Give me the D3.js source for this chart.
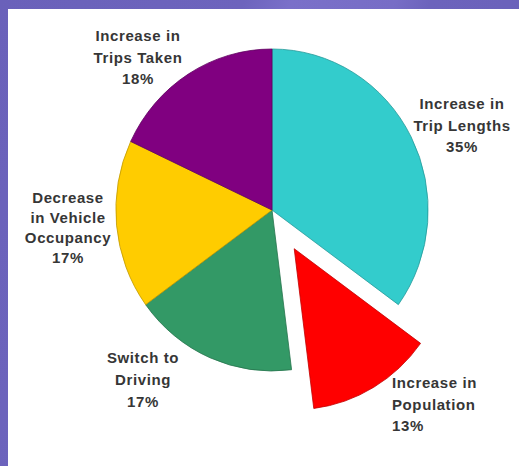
<!DOCTYPE html>
<html>
<head>
<meta charset="utf-8">
<script src="https://cdn.jsdelivr.net/npm/d3@7"></script>
<style>
  html, body { margin: 0; padding: 0; background: #6d64bd; }
  svg { display: block; }
</style>
</head>
<body>
<svg id="chart" width="519" height="466"></svg>
<script>
// Causes of growth in vehicle travel, share of total
const categories = [
  "Increase in Trip Lengths",
  "Increase in Population",
  "Switch to Driving",
  "Decrease in Vehicle Occupancy",
  "Increase in Trips Taken"
];
const shares = [35, 13, 17, 17, 18];
const labelLines = [
  ["Increase in", "Trip Lengths", "35%"],
  ["Increase in", "Population", "13%"],
  ["Switch to", "Driving", "17%"],
  ["Decrease", "in Vehicle", "Occupancy", "17%"],
  ["Increase in", "Trips Taken", "18%"]
];
const sliceColors = ["#33cccc", "#ff0000", "#339966", "#ffcc00", "#800080"];
const pulledOut = ["Increase in Population"];

// label placement: anchor x, first baseline y, line step, alignment
const labelLayout = [
  { x: 462, y: 109, step: 21.5, anchor: "middle" },
  { x: 392, y: 388, step: 21.5, anchor: "start" },
  { x: 143, y: 363, step: 22,   anchor: "middle" },
  { x: 68,  y: 203, step: 20,   anchor: "middle" },
  { x: 138, y: 41,  step: 21.5, anchor: "middle" }
];

const W = 519, H = 466;
const svg = d3.select("#chart");

// purple backdrop with soft diagonal light bands
const defs = svg.append("defs");
const grad = defs.append("linearGradient")
  .attr("id", "bg").attr("x1", "0").attr("y1", "0").attr("x2", "1").attr("y2", "0.35");
[["0", "#6a61ba"], ["0.42", "#6d64bd"], ["0.5", "#7a70c9"], ["0.68", "#776dc6"],
 ["0.74", "#6c63bc"], ["1", "#6a61ba"]].forEach(([o, c]) =>
  grad.append("stop").attr("offset", o).attr("stop-color", c));
svg.append("rect").attr("width", W).attr("height", H).attr("fill", "url(#bg)");

// white panel
svg.append("rect")
  .attr("x", 8).attr("y", 9).attr("width", W - 8).attr("height", H - 9)
  .attr("fill", "#ffffff");

const cx = 272, cy = 210, r = 161;
const pie = d3.pie().sort(null).value(d => d.value).startAngle(0).endAngle(2 * Math.PI);
const arcs = pie(categories.map((c, i) => ({ name: c, value: shares[i], color: sliceColors[i] })));
const arc = d3.arc().innerRadius(0).outerRadius(r);
const explode = 45;

const g = svg.append("g")
  .attr("transform", `translate(${cx},${cy}) scale(0.97,1)`);

g.selectAll("path.slice")
  .data(arcs)
  .join("path")
  .attr("class", "slice")
  .attr("d", arc)
  .attr("fill", d => d.data.color)
  .attr("stroke", d => d3.color(d.data.color).darker(0.8))
  .attr("stroke-width", 0.8)
  .attr("vector-effect", "non-scaling-stroke")
  .attr("transform", d => {
    if (!pulledOut.includes(d.data.name)) return null;
    const a = (d.startAngle + d.endAngle) / 2;
    return `translate(${explode * Math.sin(a)},${-explode * Math.cos(a)})`;
  });

// labels
const labels = svg.append("g")
  .attr("font-family", "'Liberation Sans', Arial, sans-serif")
  .attr("font-weight", "bold")
  .attr("font-size", 15)
  .attr("fill", "#363636");

labelLines.forEach((lines, i) => {
  const L = labelLayout[i];
  const t = labels.append("text")
    .attr("text-anchor", L.anchor)
    .attr("letter-spacing", "0.6px");
  lines.forEach((s, j) => {
    t.append("tspan").attr("x", L.x).attr("y", L.y + j * L.step).text(s);
  });
});
</script>
</body>
</html>
